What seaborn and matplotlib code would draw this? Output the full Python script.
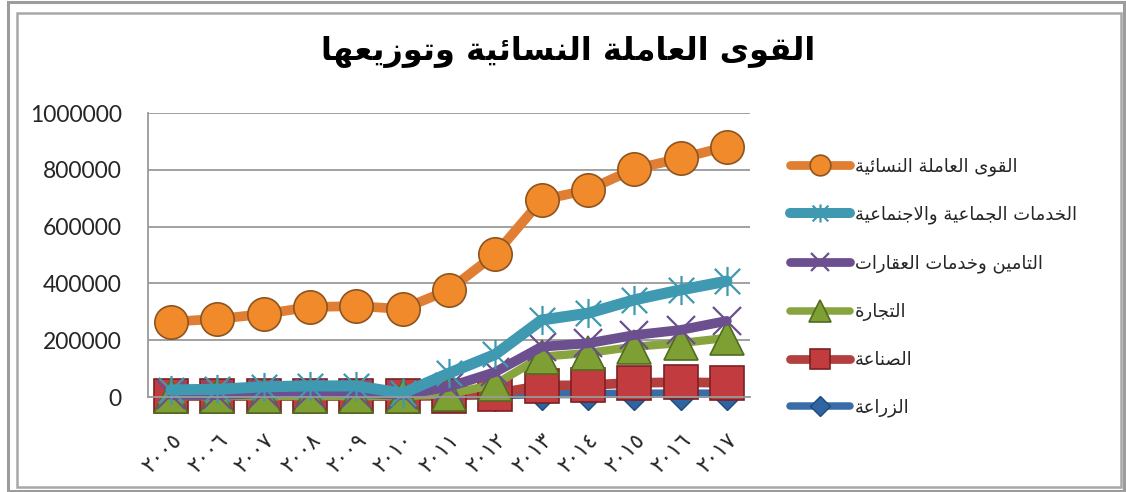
import matplotlib
matplotlib.use("Agg")
import matplotlib.pyplot as plt
from matplotlib.lines import Line2D
from matplotlib.patches import Rectangle
from matplotlib.path import Path
import seaborn as sns
import pandas as pd

# ---------------- data ----------------
years = [2005, 2006, 2007, 2008, 2009, 2010, 2011, 2012, 2013, 2014, 2015, 2016, 2017]
year_labels = ["٢٠٠٥", "٢٠٠٦", "٢٠٠٧", "٢٠٠٨", "٢٠٠٩", "٢٠١٠", "٢٠١١",
               "٢٠١٢", "٢٠١٣", "٢٠١٤", "٢٠١٥", "٢٠١٦", "٢٠١٧"]

women_labour = [265000, 275000, 292000, 317000, 320000, 310000, 377000,
                503000, 694000, 729000, 803000, 840000, 882000]
social_services = [25000, 27000, 36000, 39000, 39000, 13000, 84000,
                   150000, 271000, 295000, 342000, 377000, 408000]
insurance_real_estate = [7000, 7000, 13000, 15000, 15000, 7000, 36000,
                         88000, 177000, 189000, 218000, 236000, 268000]
trade = [3000, 3000, 3000, 3000, 3000, 3000, 10000,
         45000, 142000, 155000, 177000, 190000, 208000]
industry = [3000, 3000, 3000, 3000, 3000, 3000, 5000,
            12000, 40000, 42000, 50000, 52000, 50000]
agriculture = [3000, 3000, 3000, 3000, 3000, 3000, 4000,
               6000, 10000, 10000, 12000, 12000, 12000]

title_text = "القوى العاملة النسائية وتوزيعها"
series_names = ["القوى العاملة النسائية",
                "الخدمات الجماعية والاجنماعية",
                "التامين وخدمات العقارات",
                "التجارة",
                "الصناعة",
                "الزراعة"]
y_ticks = [0, 200000, 400000, 600000, 800000, 1000000]

# ---------------- Arabic shaping (contextual forms + RTL order) ----------------
FOUR = {'ئ': 0xFE89, 'ب': 0xFE8F, 'ت': 0xFE95, 'ث': 0xFE99, 'ج': 0xFE9D, 'ح': 0xFEA1,
        'خ': 0xFEA5, 'س': 0xFEB1, 'ش': 0xFEB5, 'ص': 0xFEB9, 'ض': 0xFEBD, 'ط': 0xFEC1,
        'ظ': 0xFEC5, 'ع': 0xFEC9, 'غ': 0xFECD, 'ف': 0xFED1, 'ق': 0xFED5, 'ك': 0xFED9,
        'ل': 0xFEDD, 'م': 0xFEE1, 'ن': 0xFEE5, 'ه': 0xFEE9, 'ي': 0xFEF1}
TWO = {'آ': 0xFE81, 'أ': 0xFE83, 'ؤ': 0xFE85, 'إ': 0xFE87, 'ا': 0xFE8D, 'ة': 0xFE93,
       'د': 0xFEA9, 'ذ': 0xFEAB, 'ر': 0xFEAD, 'ز': 0xFEAF, 'و': 0xFEED, 'ى': 0xFEEF}
LAMALEF = {'آ': 0xFEF5, 'أ': 0xFEF7, 'إ': 0xFEF9, 'ا': 0xFEFB}


def shape(text):
    out = []
    prev = False
    i, n = 0, len(text)
    while i < n:
        c = text[i]
        if c == 'ل' and i + 1 < n and text[i + 1] in LAMALEF:
            base = LAMALEF[text[i + 1]]
            out.append(chr(base + (1 if prev else 0)))
            prev = False
            i += 2
            continue
        if c in FOUR:
            nxt = text[i + 1] if i + 1 < n else ''
            cn = (nxt in FOUR) or (nxt in TWO)
            if prev and cn:
                f = 3
            elif prev:
                f = 1
            elif cn:
                f = 2
            else:
                f = 0
            out.append(chr(FOUR[c] + f))
            prev = cn
        elif c in TWO:
            out.append(chr(TWO[c] + (1 if prev else 0)))
            prev = False
        else:
            out.append(c)
            prev = False
        i += 1
    return ''.join(reversed(out))


# Excel-like "star" marker: an X with a vertical stroke
STAR = Path([(-1, -1), (1, 1), (-1, 1), (1, -1), (0, -1.15), (0, 1.15)],
            [Path.MOVETO, Path.LINETO, Path.MOVETO, Path.LINETO, Path.MOVETO, Path.LINETO])

# ---------------- style ----------------
sns.set_theme(style="white")
plt.rcParams['font.family'] = ['DejaVu Sans']

W, H = 1126, 492
fig = plt.figure(figsize=(W / 100, H / 100), dpi=100)
ax = fig.add_axes([148 / W, 1 - 397 / H, (750 - 148) / W, (397 - 113) / H])

series = [
    # name, values, line color, marker, marker face, marker edge, markersize, lw, mew
    (series_names[5], agriculture, "#3A6DA8", "D", "#2F64A3", "#1F4A7A", 16, 6, 1.0),
    (series_names[4], industry, "#B3403F", "s", "#C23B3E", "#7A2023", 24, 7, 1.2),
    (series_names[3], trade, "#87A43F", "^", "#7E9F33", "#506C20", 25, 6, 1.2),
    (series_names[2], insurance_real_estate, "#6B4F8E", "x", "#6B4F8E", "#6B4F8E", 20, 7, 1.6),
    (series_names[1], social_services, "#3E99B1", STAR, "#3E99B1", "#3E99B1", 21, 8, 1.6),
    (series_names[0], women_labour, "#E07F33", "o", "#F08A2A", "#8E5420", 24, 7, 1.2),
]

handles = {}
for name, vals, col, mk, mfc, mec, ms, lw, mew in series:
    df = pd.DataFrame({"year": years, "value": vals})
    sns.lineplot(data=df, x="year", y="value", ax=ax, color=col, linewidth=lw,
                 marker=mk, markersize=ms, markerfacecolor=mfc, markeredgecolor=mec,
                 markeredgewidth=mew, clip_on=False, solid_capstyle="round",
                 solid_joinstyle="round")
    handles[name] = Line2D([], [], color=col, linewidth=lw * 0.9, marker=mk,
                           markersize=ms * 0.62, markerfacecolor=mfc,
                           markeredgecolor=mec, markeredgewidth=mew,
                           solid_capstyle="round")

ax.set_xlim(years[0] - 0.5, years[-1] + 0.5)
ax.set_ylim(0, 1000000)
ax.set_yticks(y_ticks)
ax.set_yticklabels([str(v) for v in y_ticks], fontsize=16.5, family=['Lato', 'DejaVu Sans'])
ax.set_xticks(years)
ax.set_xticklabels(year_labels, rotation=45, ha="right", va="top", fontsize=15.5,
                   rotation_mode="anchor")
ax.set_xlabel("")
ax.set_ylabel("")
ax.grid(axis="y", color="#9A9A9A", linewidth=1.3)
ax.set_axisbelow(True)
for s in ["top", "right"]:
    ax.spines[s].set_visible(False)
for s in ["left", "bottom"]:
    ax.spines[s].set_color("#9A9A9A")
    ax.spines[s].set_linewidth(1.3)
ax.tick_params(axis="y", length=0, pad=19)
ax.tick_params(axis="x", length=0, pad=24)

# title
fig.text(568 / W, 1 - 52 / H, shape(title_text), ha="center", va="center",
         fontsize=23, fontweight="bold", color="black")

# legend (order as in reference)
leg = fig.legend([handles[n] for n in series_names], [shape(n) for n in series_names],
                 loc="upper left", bbox_to_anchor=(783 / W, 1 - 150 / H),
                 frameon=False, fontsize=13, handlelength=3.3, handletextpad=0.3,
                 labelspacing=1.66, borderaxespad=0)

# figure frame
fig.patches.append(Rectangle((8 / W, 1.5 / H), (1124 - 8) / W, (490 - 1.5) / H,
                             transform=fig.transFigure, fill=False,
                             edgecolor="#9C9C9C", linewidth=2.2))
fig.patches.append(Rectangle((17 / W, 5 / H), (1121 - 17) / W, (479 - 5) / H,
                             transform=fig.transFigure, fill=False,
                             edgecolor="#A8A8A8", linewidth=1.8))

fig.savefig("out.png", dpi=100)
